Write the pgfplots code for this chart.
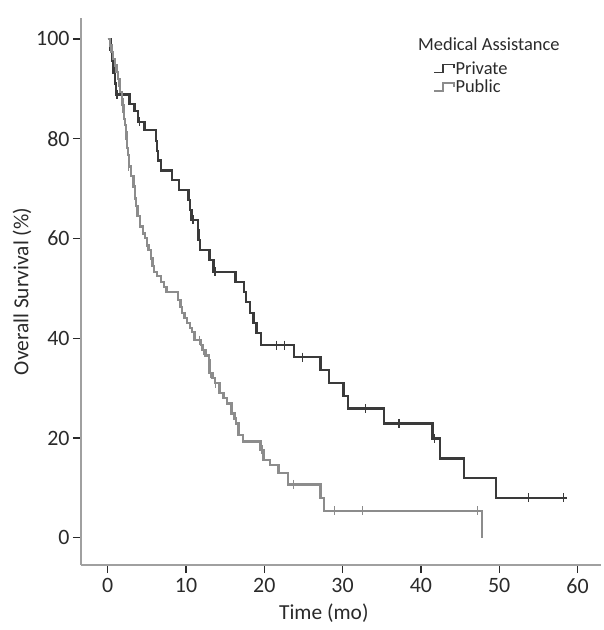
\documentclass[border=0pt]{standalone}
\usepackage{fontspec}
\setmainfont{Carlito}
\usepackage{pgfplots}
\pgfplotsset{compat=1.18}
\definecolor{priv}{HTML}{3A3A3A}
\definecolor{pub}{HTML}{8C8C8C}
\definecolor{axgray}{HTML}{A0A0A0}
\definecolor{txt}{HTML}{2A2A2A}

\begin{document}
\begin{tikzpicture}
\path[use as bounding box] (-81bp,-65bp) rectangle (523bp,565bp);
\begin{axis}[
  at={(0,0)}, anchor=south west,
  scale only axis, width=520bp, height=547bp,
  xmin=-3.41, xmax=63.0, ymin=-5.47, ymax=104.2,
  axis x line*=bottom, axis y line*=left,
  axis line style={axgray, line width=1.4bp},
  xtick={0,10,...,60}, ytick={0,20,...,100},
  tick align=outside, major tick length=8bp,
  tick style={txt, line width=1.3bp},
  /pgf/number format/assume math mode=true,
  ticklabel style={font=\fontsize{22}{25}\selectfont, text=txt},
  xticklabel style={yshift=-2bp},
  xlabel={Time (mo)}, ylabel={Overall Survival (\%)},
  every axis x label/.style={at={(axis description cs:0.467,-0.088)}, anchor=center, font=\fontsize{21.5}{24}\selectfont, text=txt},
  every axis y label/.style={at={(axis description cs:-0.1135,0.5)}, anchor=center, rotate=90, font=\fontsize{21.5}{24}\selectfont, text=txt},
  clip=false,
  legend style={at={(axis description cs:0.677,0.922)}, anchor=north west, draw=none, fill=none,
    font=\fontsize{18.5}{20}\selectfont, text=txt, row sep=3.5bp, inner sep=0pt,
    nodes={inner sep=0.5bp}},
  legend cell align=left,
  legend image code/.code={\draw[#1, line width=1.8bp] (0bp,-4bp) -- (9bp,-4bp) -- (9bp,4bp) -- (20bp,4bp) -- (20bp,0bp);},
]
\addplot[const plot, priv, line width=2.4bp] coordinates {
(0,100) (0.35,97.8) (0.55,95.6) (0.75,93.3) (0.9,91.1) (1.05,88.9) (2.8,86.9) (3.4,85.6) (3.9,83.4)
(4.7,81.7) (6.2,79.5) (6.3,77.5) (6.4,75.6) (6.8,73.6) (8.2,71.7) (9.1,69.7) (10.3,67.7) (10.5,65.7)
(10.7,63.7) (11.5,61.7) (11.6,59.7) (11.8,57.7) (13.0,55.7) (13.5,53.3) (16.3,51.3) (17.4,49.3)
(17.7,47.2) (18.2,45.0) (18.6,43.0) (19.0,41.0) (19.6,38.6) (23.8,36.2) (27.2,33.6) (28.3,31.0)
(30.1,28.4) (30.7,25.9) (35.3,22.9) (41.5,19.9) (42.4,15.9) (45.5,12.0) (49.6,8.0) (58.6,8.0)
};
\addlegendentry{Private}
\addplot[const plot, pub, line width=2.4bp] coordinates {
(0,100) (0.3,98.7) (0.5,97.4) (0.7,96) (0.9,94.7) (1.1,93.4) (1.3,92) (1.5,90.7) (1.6,89.4)
(1.8,88) (1.9,86.7) (2.0,85.4) (2.1,84) (2.2,82.7) (2.3,81.4) (2.4,80) (2.5,78.1) (2.6,76.7)
(2.7,74.4) (3.0,72.5) (3.3,70.4) (3.5,68) (3.6,66.5) (3.8,64.5) (4.1,62.4) (4.5,61) (4.8,60.1)
(5.0,58.6) (5.2,57.7) (5.5,56) (5.7,54.5) (5.9,53.3) (6.3,52.5) (6.8,51.3) (7.2,50.3) (7.5,49.3)
(9.0,47.7) (9.3,46.3) (9.5,45.0) (9.8,44) (10.1,43.0) (10.5,42) (10.8,41.3) (11.1,39.6)
(11.9,38.6) (12.1,37.6) (12.5,36.5) (12.9,35.6) (13.0,33.0) (13.4,32) (13.7,31.0) (14.3,29.0)
(14.8,28) (15.2,26.9) (15.8,24.9) (16.2,23.9) (16.4,22.9) (16.7,20.6) (17.3,19.3) (19.5,17.6)
(19.9,15.6) (20.7,14.6) (21.8,13.0) (23.0,10.7) (27.2,8.0) (27.6,5.4) (47.8,0)
};
\addlegendentry{Public}
\addplot[only marks, mark=|, mark size=4.5bp, mark options={priv, line width=1.3bp}, forget plot] coordinates {
(1.2,88.9) (4.1,83.4) (10.9,63.7) (13.7,53.3) (21.6,38.6) (22.6,38.6) (24.9,36.2) (32.9,25.9)
(37.2,22.9) (41.7,19.9) (53.7,8.0) (58.2,8.0)
};
\addplot[only marks, mark=|, mark size=4.5bp, mark options={pub, line width=1.3bp}, forget plot] coordinates {
(2.5,78.1) (2.7,74.4) (11.7,39.6) (12.0,38.6) (12.2,37.6) (13.1,33.0) (13.8,31.0) (16.3,23.9)
(19.7,17.6) (23.7,10.7) (29.0,5.4) (32.5,5.4) (47.2,5.4)
};
\node[anchor=west, font=\fontsize{18.5}{20}\selectfont, text=txt, inner sep=0pt] at (axis description cs:0.648,0.953) {Medical Assistance};
\end{axis}
\end{tikzpicture}
\end{document}
